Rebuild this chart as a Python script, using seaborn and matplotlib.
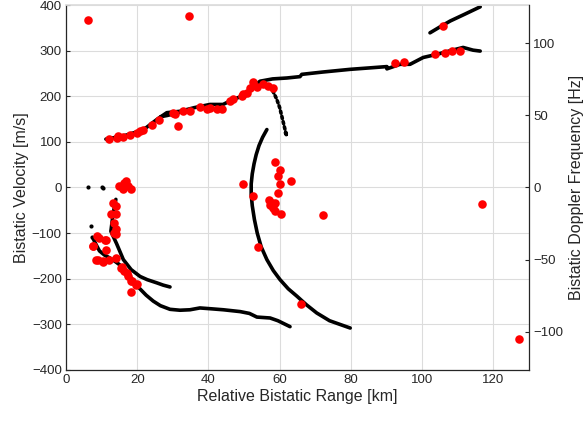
import matplotlib
matplotlib.use("Agg")
import matplotlib.pyplot as plt
import seaborn as sns
import pandas as pd
import numpy as np

# ---------------- data ----------------
# black tracks (range km, bistatic velocity m/s)
track_main_x = [11.2, 14.0, 17.0, 19.9, 22.5, 25.5, 28.3, 32.0, 36.0, 40.4, 44.1, 46.9, 50.8, 52.6, 54.5,
                58.0, 62.0, 65.7, 66.2, 72.0, 79.8, 85.0, 90.1, 90.1, 93.8, 96.6, 100.3, 104.2, 108.0, 111.5, 114.3, 116.3]
track_main_v = [106, 110, 115, 122, 131, 149, 164, 167, 175, 182, 182, 193, 204, 222, 233,
                238, 240, 243, 248, 253, 259, 262, 265, 260, 270, 270, 285, 292, 300, 307, 301, 299]
track_loop_x = [26.5, 28.5, 31.0, 33.0]
track_loop_v = [155, 158, 163, 167]
track_upper_x = [102.2, 105.0, 107.9, 112.0, 116.3]
track_upper_v = [339, 352, 365, 380, 396]
track_drop_x = [57.3, 58.3, 59.2, 60.0, 60.6, 61.5, 62.0, 61.6]
track_drop_v = [222, 208, 193, 175, 156, 127, 113, 120]
track_arc_x = [56.4, 55.2, 54.2, 53.4, 52.8, 52.3, 52.0, 52.0, 52.3, 52.9, 53.7, 54.8, 56.4, 58.2,
               60.1, 62.4, 64.8, 67.5, 70.4, 74.0, 79.8]
track_arc_v = [127, 110, 92, 72, 52, 30, 8, -15, -40, -70, -100, -130, -158, -182,
               -202, -222, -238, -257, -275, -292, -308]
track_low_x = [7.5, 8.5, 9.4, 10.8, 12.2, 13.6, 15.0, 16.8, 18.7, 20.5, 22.5, 24.5, 26.5, 29.2, 32.0,
               34.8, 37.6, 41.0, 44.2, 48.9, 51.5, 53.6, 57.3, 59.5, 62.9]
track_low_v = [-110, -126, -139, -148, -154, -161, -169, -184, -202, -220, -236, -249, -259, -267, -269,
               -268, -264, -266, -268, -272, -276, -284, -286, -292, -305]
track_mid_x = [14.0, 13.2, 12.6, 14.2, 16.1, 18.3, 20.8, 22.8, 25.5, 27.3, 29.2]
track_mid_v = [-26, -59, -96, -123, -158, -180, -195, -202, -209, -214, -218]
black_dots_x = [6.1, 10.2, 10.4, 7.0, 7.2]
black_dots_v = [0, 0, -2, -85, -108]

# red detections (range km, bistatic velocity m/s)
red_x = [6.3, 34.6, 31.5,
         12.2, 14.2, 14.7, 16.1, 18.0, 19.9, 20.8, 21.7, 24.1, 26.0, 30.1, 30.6, 32.9, 34.8, 37.6, 39.5,
         40.4, 42.3, 43.7, 46.1, 47.0, 49.3, 49.8, 50.8, 51.7, 52.6, 53.6, 55.4, 56.8, 58.2,
         92.4, 94.9, 103.7, 106.5, 108.3, 110.7, 105.8,
         58.7, 60.1, 59.5, 60.1, 63.1, 49.6, 52.6, 59.5, 57.1, 57.8, 58.7, 57.3, 58.2, 58.7, 60.4,
         72.1, 54.0, 66.0, 116.9, 127.3,
         15.0, 16.4, 17.3, 18.3, 15.9, 16.9,
         13.1, 14.0, 12.6, 14.0, 13.6, 13.9, 13.9, 9.4, 11.2, 7.5, 11.2, 8.4, 10.3, 12.2, 14.0,
         15.4, 16.4, 17.3, 18.3, 19.7, 18.3, 8.6, 11.0, 7.7, 9.1, 10.5, 15.6, 17.0, 18.5, 19.9, 13.5]
red_v = [368, 376, 134,
         107, 109, 113, 111, 116, 120, 123, 127, 137, 148, 164, 160, 167, 168, 177, 173,
         175, 171, 173, 189, 193, 200, 204, 208, 219, 232, 220, 226, 222, 219,
         273, 275, 292, 295, 299, 300, 355,
         55, 39, 25, 7, 14, 7, -19, -12, -28, -34, -34, -39, -45, -52, -59,
         -61, -131, -255, -36, -332,
         3, 10, 3, -3, -4, 14,
         -34, -41, -59, -59, -77, -92, -103, -110, -114, -129, -136, -158, -164, -158, -154,
         -176, -184, -195, -205, -213, -230, -107, -114, -129, -159, -162, -174, -187, -205, -211, -99]

x_ticks = [0, 20, 40, 60, 80, 100, 120]
v_ticks = [-400, -300, -200, -100, 0, 100, 200, 300, 400]
f_ticks = [-100, -50, 0, 50, 100]
v_per_hz = 3.16

# ---------------- build tables ----------------
tracks = [
    ("main", track_main_x, track_main_v),
    ("loop", track_loop_x, track_loop_v),
    ("upper", track_upper_x, track_upper_v),
    ("arc", track_arc_x, track_arc_v),
    ("low", track_low_x, track_low_v),
    ("mid", track_mid_x, track_mid_v),
]
lines = pd.concat([pd.DataFrame({"track": n, "range": x, "vel": v}) for n, x, v in tracks],
                  ignore_index=True)
drop = pd.DataFrame({"range": track_drop_x, "vel": track_drop_v})
dots = pd.DataFrame({"range": black_dots_x, "vel": black_dots_v})
reds = pd.DataFrame({"range": red_x, "vel": red_v})

# ---------------- plot ----------------
sns.set_theme(style="white")
plt.rcParams["font.family"] = ["Liberation Sans", "DejaVu Sans"]
plt.rcParams["xtick.direction"] = "in"
plt.rcParams["ytick.direction"] = "in"

fig = plt.figure(figsize=(5.83, 4.22), dpi=100)
ax = fig.add_axes([66 / 583, 1 - 370 / 422, (529 - 66) / 583, (370 - 5) / 422])

sns.lineplot(data=lines, x="range", y="vel", units="track", estimator=None, sort=False,
             color="black", linewidth=2.6, solid_capstyle="round", solid_joinstyle="round",
             ax=ax, legend=False)
sns.lineplot(data=drop, x="range", y="vel", estimator=None, sort=False, color="black",
             linewidth=2.6, linestyle=(0, (0.6, 0.9)), dash_capstyle="round", ax=ax, legend=False)
sns.scatterplot(data=dots, x="range", y="vel", color="black", s=9, linewidth=0, ax=ax)
sns.scatterplot(data=reds, x="range", y="vel", color="#ff0000", s=38, linewidth=0, ax=ax, zorder=5)

ax.set_xlim(0, 130)
ax.set_ylim(-400, 400)
ax.set_xticks(x_ticks)
ax.set_yticks(v_ticks)
ax.grid(True, color="#dcdcdc", linewidth=0.8)
ax.set_axisbelow(True)
ax.set_xlabel("Relative Bistatic Range [km]", fontsize=11.5, color="#262626", labelpad=2)
ax.set_ylabel("Bistatic Velocity [m/s]", fontsize=11.5, color="#262626", labelpad=2)
ax.tick_params(axis="both", labelsize=9.5, colors="#262626", length=3, width=0.8, pad=3)
for side in ["left", "bottom"]:
    ax.spines[side].set_color("#262626")
    ax.spines[side].set_linewidth(0.9)
ax.spines["top"].set_color("#dcdcdc")
ax.spines["right"].set_visible(False)

ax2 = ax.twinx()
ax2.set_ylim(-400 / v_per_hz, 400 / v_per_hz)
ax2.set_yticks(f_ticks)
ax2.set_ylabel("Bistatic Doppler Frequency [Hz]", fontsize=11.5, color="#262626", labelpad=4)
ax2.tick_params(axis="y", labelsize=9.5, colors="#262626", length=3, width=0.8, pad=3, direction="in")
for side in ["left", "bottom", "top"]:
    ax2.spines[side].set_visible(False)
ax2.spines["right"].set_color("#262626")
ax2.spines["right"].set_linewidth(0.9)

fig.savefig("out.png", dpi=100)
